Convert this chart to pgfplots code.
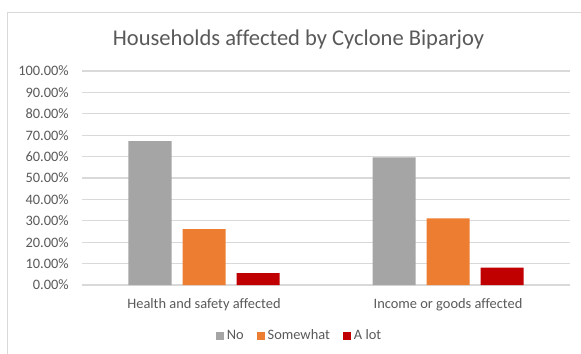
\documentclass[border=0pt]{standalone}
\usepackage{pgfplots}
\pgfplotsset{compat=1.18}
\usepackage{fontspec}
\setmainfont[Ligatures=NoCommon]{Carlito}
\definecolor{barNo}{HTML}{A5A5A5}
\definecolor{barSome}{HTML}{ED7D31}
\definecolor{barLot}{HTML}{C00000}
\definecolor{gridc}{HTML}{D9D9D9}
\definecolor{txt}{HTML}{595959}
\begin{document}
\begin{tikzpicture}
\path[use as bounding box] (0,0) rectangle (435.75pt,264.75pt);
% chart frame
\draw[gridc, line width=0.9pt] (5.6pt,-2pt) -- (5.6pt,255.4pt) -- (440pt,255.4pt);
% title
\node[txt, font=\fontsize{16.9}{20}\selectfont, anchor=base, inner sep=0pt]
  at (223.9pt,230.25pt) {Households affected by Cyclone Biparjoy};
\begin{axis}[
  at={(61.5pt,51pt)}, anchor=south west,
  width=366pt, height=160.5pt, scale only axis,
  ymin=0, ymax=100, xmin=-0.5, xmax=1.5,
  axis line style={draw=none},
  major tick length=0pt,
  ytick={0,10,...,100},
  yticklabels={0.00\%,10.00\%,20.00\%,30.00\%,40.00\%,50.00\%,60.00\%,70.00\%,80.00\%,90.00\%,100.00\%},
  xtick={0,1},
  xticklabels={Health and safety affected, Income or goods affected},
  ymajorgrids, grid style={gridc, line width=0.9pt},
  yticklabel style={font=\fontsize{10.8}{13}\selectfont, text=txt, inner sep=0pt, anchor=east, xshift=-9.75pt},
  xticklabel style={font=\fontsize{10.8}{13}\selectfont, text=txt, inner sep=0pt, anchor=base, yshift=-17.25pt},
  legend style={at={(0.4467,-0.2383)}, anchor=center, draw=none, fill=none,
    legend columns=3, font=\fontsize{10.8}{13}\selectfont, text=txt,
    /tikz/every even column/.append style={column sep=8pt}},
]
\addplot[ybar, bar width=32.25pt, bar shift=-40.5pt, fill=barNo, draw=none,
  legend image code/.code={\fill[barNo] (-1pt,-3pt) rectangle (5pt,3pt);}]
  coordinates {(0,67.2) (1,59.6)};
\addplot[ybar, bar width=32.25pt, bar shift=0pt, fill=barSome, draw=none,
  legend image code/.code={\fill[barSome] (-1pt,-3pt) rectangle (5pt,3pt);}]
  coordinates {(0,26.1) (1,31.1)};
\addplot[ybar, bar width=32.25pt, bar shift=40.5pt, fill=barLot, draw=none,
  legend image code/.code={\fill[barLot] (-1pt,-3pt) rectangle (5pt,3pt);}]
  coordinates {(0,5.5) (1,8.1)};
\legend{No, Somewhat, A lot}
\end{axis}
\end{tikzpicture}
\end{document}
